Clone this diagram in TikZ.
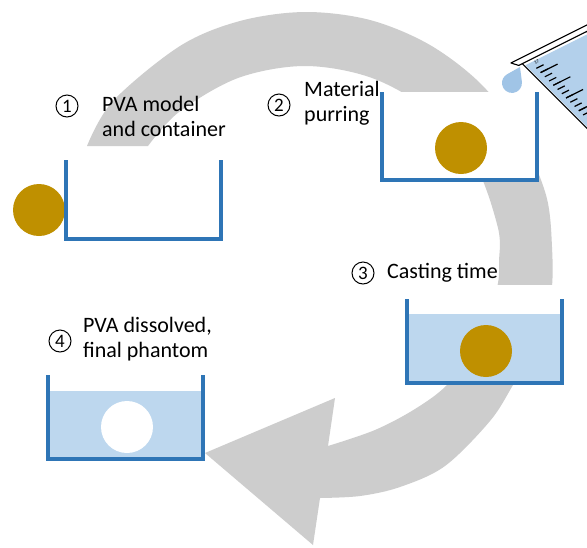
\documentclass[tikz,border=0pt]{standalone}
\usepackage{fontspec}
\setmainfont{Carlito}
\usetikzlibrary{positioning}
\definecolor{cupblue}{RGB}{46,117,182}
\definecolor{waterblue}{RGB}{189,215,238}
\definecolor{pvagold}{RGB}{191,144,0}
\definecolor{cyclegray}{RGB}{205,205,205}
\definecolor{dropblue}{RGB}{160,196,230}
\tikzstyle{stepnum} = [circle, draw=black, line width=1pt, minimum size=22pt, inner sep=0pt,
  font=\fontsize{19}{19}\selectfont]
\tikzstyle{steptext} = [anchor=base west, align=left, inner sep=0pt, font=\fontsize{22}{25}\selectfont]
\tikzstyle{wall} = [draw=cupblue, line width=3.2pt]
\tikzstyle{cupbg} = [fill=white]
\tikzstyle{water} = [fill=waterblue]
\tikzstyle{pva} = [fill=pvagold]
\tikzstyle{glass} = [draw=black, line width=1.1pt, line join=round]

\begin{document}
\begin{tikzpicture}[x=1pt, y=-1pt] % pixel-like units, y pointing down
  \fill[white] (0,0) rectangle (587,547);
  \useasboundingbox (0,0) rectangle (587,547);

  % big circular arrow behind everything
  \fill[cyclegray] plot[smooth, tension=0.55] coordinates {(87,146) (113,101) (180,46) (240,21)
      (305,12) (370,20) (430,45) (482,85) (521,137) (546,195) (552,247) (551,295) (537,343)
      (513,385) (490,421) (445,466) (400,487) (360,496) (320,498)}
    -- (313,545) -- (205,453) -- (335,398)
    -- plot[smooth, tension=0.55] coordinates {(328,446) (375,430) (415,409) (447,385) (475,348)
      (490,312) (498,283) (499,262) (498,228) (475,164) (431,112) (372,78) (305,66) (238,78)
      (179,112) (148,146)} -- cycle;

  % step 1: empty container + pva model
  \fill[cupbg] (66,160) rectangle (221,239);
  \fill[pva] (39,210) circle (26);
  \draw[wall] (66,160) |- (221,239) -- (221,160);
  \node (n1) [stepnum] at (67,106) {1};
  \node (t1) [steptext] at (102,136) {PVA model\\and container};

  % step 2: model placed, material poured in
  \fill[cupbg] (382,92) rectangle (537,180);
  \fill[pva] (461,148) circle (26);
  \draw[wall] (382,92) |- (537,180) -- (537,92);
  \node (n2) [stepnum] at (279,105) {2};
  \node (t2) [steptext] at (304,121) {Material\\purring};

  % beaker (skewed frame along rim and side) + drop
  \begin{scope}
    \clip (480,0) rectangle (587,130);
    \begin{scope}[shift={(517,61)}, x={(0.894pt,0.447pt)}, y={(0.707pt,-0.707pt)}]
      \fill[cupbg] (-3,0) -- (80,0) -- (80,120) -- (-3,120) -- cycle;
      \fill[dropblue!80] (3,8) -- (73,8) -- (73,120) -- (3,120) -- cycle;
      \draw[glass] (-6,-1) -- (80,-1) -- (80,5) -- (-2,5) -- cycle;
      \draw[glass] (2,5) -- (2,120);
      \draw[glass] (74,5) -- (74,120);
      \foreach \v in {16,22,...,88} \draw[line width=1.2pt] (9,\v) -- (17,\v);
      \foreach \v in {22,40,...,88} \draw[line width=1.2pt] (9,\v) -- (28,\v);
      \node[font=\fontsize{5}{5}\selectfont, rotate=26.6] (scale) at (14,10) {17};
    \end{scope}
  \end{scope}
  \fill[dropblue] (520,67) -- (521.9,81.7) arc[start angle=-7.4, end angle=240.6, radius=10] -- cycle;

  % step 3: casting
  \fill[cupbg] (407,285) rectangle (562,383);
  \fill[water] (407,314) rectangle (562,383);
  \fill[pva] (486,351) circle (26);
  \draw[wall] (407,299) |- (562,383) -- (562,299);
  \node (n3) [stepnum] at (363,273) {3};
  \node (t3) [steptext] at (387,278) {Casting time};

  % step 4: pva gone, hollow left in the phantom
  \fill[water] (48,391) rectangle (203,459);
  \fill[white] (127,427) circle (26);
  \draw[wall] (48,375) |- (203,459) -- (203,375);
  \node (n4) [stepnum] at (60,341) {4};
  \node (t4) [steptext] at (83,357) {PVA dissolved,\\final phantom};
\end{tikzpicture}
\end{document}
